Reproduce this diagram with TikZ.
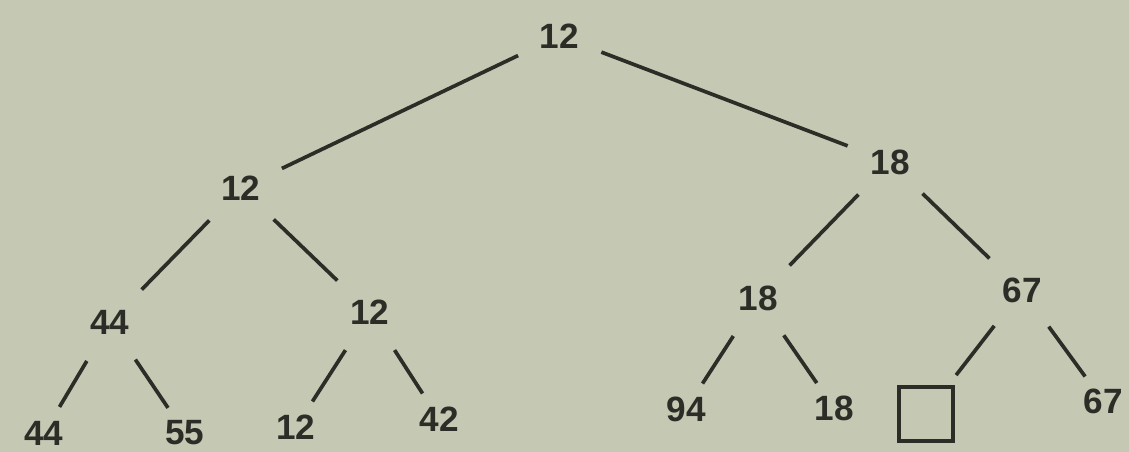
\documentclass[tikz,border=0pt]{standalone}
\usepackage{fontspec}
\setmainfont{Liberation Sans}
\usetikzlibrary{positioning}
\definecolor{paper}{RGB}{197,200,178}
\definecolor{ink}{RGB}{45,45,40}
\tikzset{
  key/.style={circle, inner sep=0pt, minimum size=1.8cm, text=ink,
    font=\fontsize{20}{24}\selectfont\bfseries},
  leaf/.style={key, minimum size=1.2cm},
  branch/.style={draw=ink, line width=2.1pt},
  emptybox/.style={draw=ink, line width=2.3pt, minimum size=1.08cm, inner sep=0pt}
}
\begin{document}
\begin{tikzpicture}[x=0.02cm, y=-0.02cm]
  \fill[paper] (0,0) rectangle (1129,452);
  \useasboundingbox (0,0) rectangle (1129,452);

  % winners
  \node[key] (root) at (559,36) {12};
  \node[key] (l) at (241,188) {12};
  \node[key] (r) at (890,162) {18};
  \node[key] (ll) at (110,322) {44};
  \node[key] (lr) at (370,312) {12};
  \node[key] (rl) at (758,298) {18};
  \node[key] (rr) at (1022,290) {67};

  % players
  \node[leaf] (p1) at (44,433) {44};
  \node[leaf] (p2) at (185,433) {55};
  \node[leaf] (p3) at (296,427) {12};
  \node[leaf] (p4) at (439,419) {42};
  \node[leaf] (p5) at (686,409) {94};
  \node[leaf] (p6) at (834,408) {18};
  \node[emptybox] (p7) at (926,414) {};
  \node[leaf] (p8) at (1103,401) {67};

  \draw[branch] (root) -- (l);
  \draw[branch] (root) -- (r);
  \draw[branch] (l) -- (ll);
  \draw[branch] (l) -- (lr);
  \draw[branch] (r) -- (rl);
  \draw[branch] (r) -- (rr);
  \draw[branch] (ll) -- (p1);
  \draw[branch] (ll) -- (p2);
  \draw[branch] (lr) -- (p3);
  \draw[branch] (lr) -- (p4);
  \draw[branch] (rl) -- (p5);
  \draw[branch] (rl) -- (p6);
  \draw[branch, shorten >=0.25cm] (rr) -- (p7);
  \draw[branch] (rr) -- (p8);
\end{tikzpicture}
\end{document}
